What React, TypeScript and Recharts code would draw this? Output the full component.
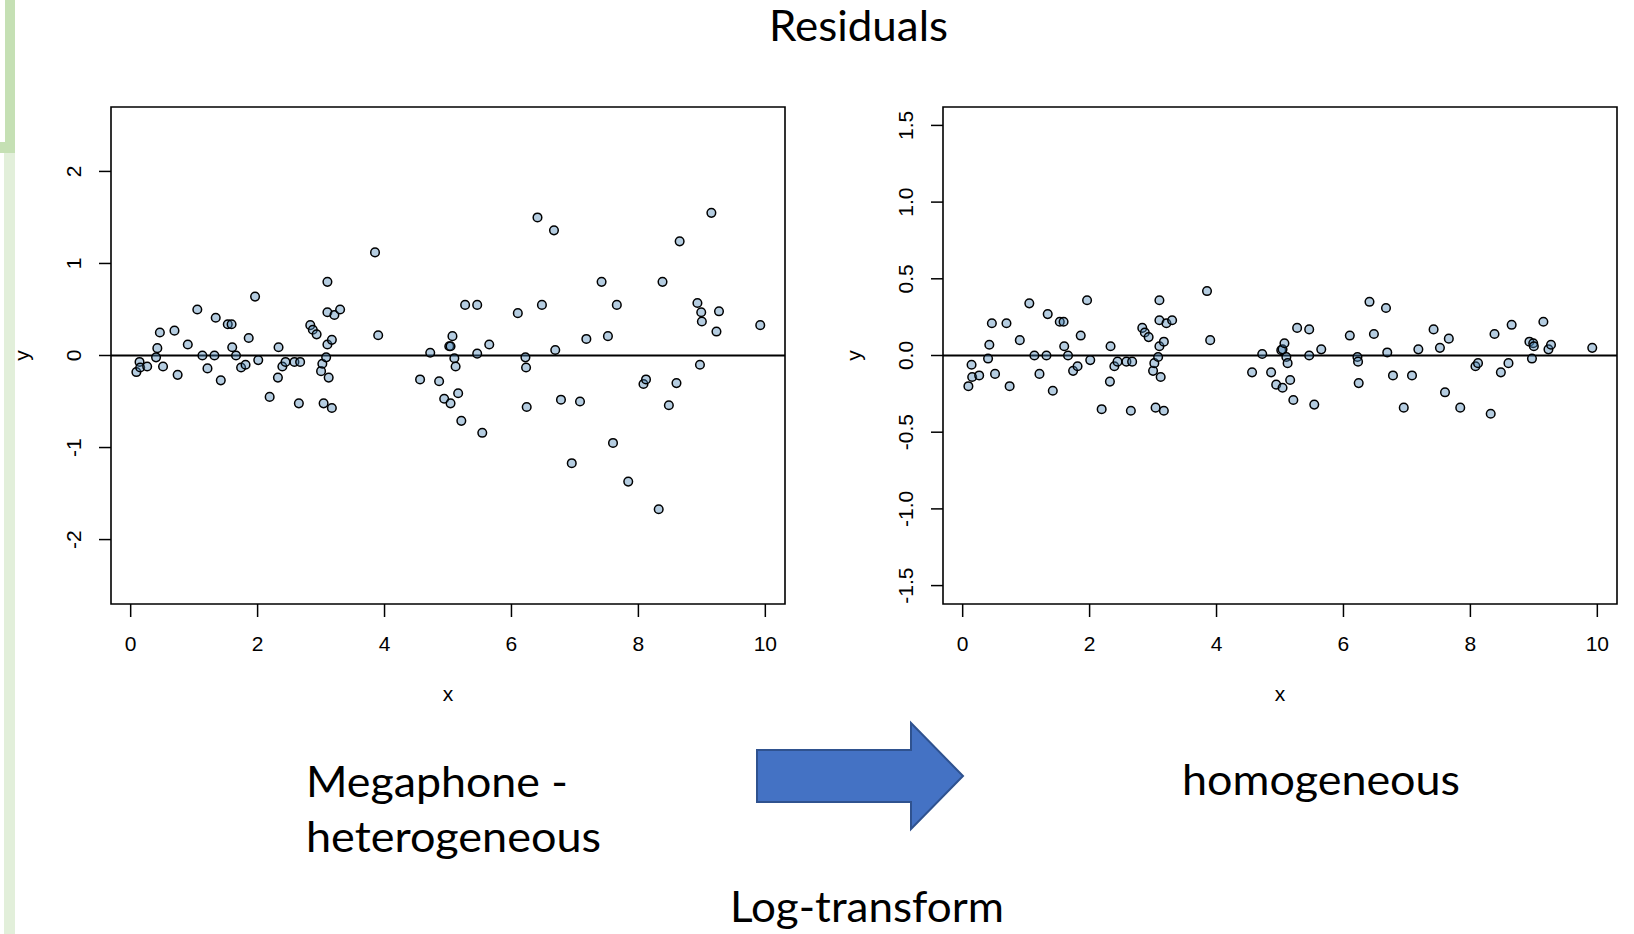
import { Label, ReferenceArea, ReferenceLine, Scatter, ScatterChart, XAxis, YAxis } from "recharts";

// x positions shared by both panels (same observations)
const xVals = [
  0.09, 0.14, 0.15, 0.26, 0.4, 0.42, 0.46, 0.51, 0.69, 0.74,
  0.9, 1.05, 1.13, 1.21, 1.32, 1.34, 1.42, 1.53, 1.59, 1.6,
  1.66, 1.74, 1.81, 1.86, 1.96, 2.01, 2.19, 2.32, 2.33, 2.39,
  2.44, 2.58, 2.67, 2.65, 2.83, 2.87, 2.93, 3.0, 3.02, 3.08,
  3.1, 3.1, 3.1, 3.12, 3.04, 3.17, 3.17, 3.21, 3.3, 3.85,
  3.9, 4.56, 4.72, 4.86, 4.94, 5.02, 5.04, 5.07, 5.04, 5.1,
  5.12, 5.16, 5.21, 5.27, 5.46, 5.46, 5.54, 5.65, 6.1, 6.22,
  6.23, 6.24, 6.41, 6.48, 6.67, 6.69, 6.78, 6.95, 7.08, 7.18,
  7.42, 7.52, 7.6, 7.66, 7.84, 8.08, 8.12, 8.32, 8.38, 8.48,
  8.6, 8.65, 8.93, 8.99, 9.0, 8.97, 9.15, 9.23, 9.27, 9.92,
];

// residuals of the raw model (megaphone)
const residRaw = [
  -0.18, -0.07, -0.13, -0.12, -0.02, 0.08, 0.25, -0.12, 0.27, -0.21,
  0.12, 0.5, 0.0, -0.14, 0.0, 0.41, -0.27, 0.34, 0.34, 0.09,
  0.0, -0.13, -0.1, 0.19, 0.64, -0.05, -0.45, -0.24, 0.09, -0.12,
  -0.07, -0.07, -0.07, -0.52, 0.33, 0.28, 0.23, -0.17, -0.09, -0.02,
  0.8, 0.47, 0.12, -0.24, -0.52, 0.17, -0.57, 0.44, 0.5, 1.12,
  0.22, -0.26, 0.03, -0.28, -0.47, 0.1, 0.1, 0.21, -0.52, -0.03,
  -0.12, -0.41, -0.71, 0.55, 0.55, 0.02, -0.84, 0.12, 0.46, -0.02,
  -0.13, -0.56, 1.5, 0.55, 1.36, 0.06, -0.48, -1.17, -0.5, 0.18,
  0.8, 0.21, -0.95, 0.55, -1.37, -0.31, -0.26, -1.67, 0.8, -0.54,
  -0.3, 1.24, 0.57, 0.47, 0.37, -0.1, 1.55, 0.26, 0.48, 0.33,
];

// residuals after log-transform
const residLog = [
  -0.2, -0.06, -0.14, -0.13, -0.02, 0.07, 0.21, -0.12, 0.21, -0.2,
  0.1, 0.34, 0.0, -0.12, 0.0, 0.27, -0.23, 0.22, 0.22, 0.06,
  0.0, -0.1, -0.07, 0.13, 0.36, -0.03, -0.35, -0.17, 0.06, -0.07,
  -0.04, -0.04, -0.04, -0.36, 0.18, 0.15, 0.12, -0.1, -0.05, -0.01,
  0.36, 0.23, 0.06, -0.14, -0.34, 0.09, -0.36, 0.21, 0.23, 0.42,
  0.1, -0.11, 0.01, -0.11, -0.19, 0.035, 0.04, 0.08, -0.21, -0.01,
  -0.05, -0.16, -0.29, 0.18, 0.17, 0.0, -0.32, 0.04, 0.13, -0.01,
  -0.04, -0.18, 0.35, 0.14, 0.31, 0.02, -0.13, -0.34, -0.13, 0.04,
  0.17, 0.05, -0.24, 0.11, -0.34, -0.07, -0.05, -0.38, 0.14, -0.11,
  -0.05, 0.2, 0.09, 0.08, 0.06, -0.02, 0.22, 0.04, 0.07, 0.05,
];

const xTicks = [0, 2, 4, 6, 8, 10];
const rawTicks = [-2, -1, 0, 1, 2];
const logTicks = [-1.5, -1.0, -0.5, 0.0, 0.5, 1.0, 1.5];

const rawData = xVals.map((x, i) => ({ x, y: residRaw[i] }));
const logData = xVals.map((x, i) => ({ x, y: residLog[i] }));

const AXIS_FONT = "'Liberation Sans', Arial, sans-serif";
const SLIDE_FONT = "Lato, 'Open Sans', sans-serif";
const X_DOMAIN: [number, number] = [-0.31, 10.31];

const Dot = (p: any) => (
  <circle cx={p.cx} cy={p.cy} r={4.3} fill="#4682b4" fillOpacity={0.4} stroke="#000" strokeWidth={1.5} />
);

const makeYTick = (fmt: (v: number) => string) => (p: any) => {
  const cx = p.x - 26;
  const cy = p.y;
  return (
    <text
      x={cx}
      y={cy}
      dy="0.36em"
      textAnchor="middle"
      transform={`rotate(-90, ${cx}, ${cy})`}
      fontSize={21}
      fontFamily={AXIS_FONT}
      fill="#000"
    >
      {fmt(p.payload.value)}
    </text>
  );
};

const XTitle = (p: any) => {
  const vb = p.viewBox;
  return (
    <text x={vb.x + vb.width / 2} y={vb.y + 97} textAnchor="middle" fontSize={21} fontFamily={AXIS_FONT} fill="#000">
      x
    </text>
  );
};

const YTitle = (p: any) => {
  const vb = p.viewBox;
  const cx = vb.x + vb.width - 87;
  const cy = vb.y + vb.height / 2;
  return (
    <text
      x={cx}
      y={cy}
      dy="0.25em"
      textAnchor="middle"
      transform={`rotate(-90, ${cx}, ${cy})`}
      fontSize={21}
      fontFamily={AXIS_FONT}
      fill="#000"
    >
      y
    </text>
  );
};

interface PanelProps {
  data: { x: number; y: number }[];
  yDomain: [number, number];
  yTicks: number[];
  fmt: (v: number) => string;
  axisWidth: number;
  rightMargin: number;
}

const ResidPanel = ({ data, yDomain, yTicks, fmt, axisWidth, rightMargin }: PanelProps) => (
  <ScatterChart width={800} height={720} margin={{ top: 107, right: rightMargin, bottom: 16, left: 0 }}>
    <XAxis
      type="number"
      dataKey="x"
      domain={X_DOMAIN}
      ticks={xTicks}
      interval={0}
      allowDataOverflow
      axisLine={false}
      tickSize={13}
      tickMargin={19}
      tickLine={{ stroke: "#000", strokeWidth: 1.5 }}
      tick={{ fontSize: 21, fill: "#000", fontFamily: AXIS_FONT }}
      height={100}
    >
      <Label content={<XTitle />} />
    </XAxis>
    <YAxis
      type="number"
      dataKey="y"
      domain={yDomain}
      ticks={yTicks}
      interval={0}
      allowDataOverflow
      axisLine={false}
      tickSize={12}
      tickMargin={0}
      tickLine={{ stroke: "#000", strokeWidth: 1.5 }}
      tick={makeYTick(fmt)}
      width={axisWidth}
    >
      <Label content={<YTitle />} />
    </YAxis>
    <ReferenceArea
      x1={X_DOMAIN[0]}
      x2={X_DOMAIN[1]}
      y1={yDomain[0]}
      y2={yDomain[1]}
      fill="none"
      stroke="#000"
      strokeWidth={1.6}
      ifOverflow="visible"
    />
    <Scatter data={data} shape={<Dot />} isAnimationActive={false} />
    <ReferenceLine y={0} stroke="#000" strokeWidth={2.2} />
  </ScatterChart>
);

export default function App() {
  return (
    <div style={{ position: "absolute", left: 0, top: 0, width: 1634, height: 934, background: "#fff", overflow: "hidden" }}>
      {/* slide decoration on the left edge */}
      <div style={{ position: "absolute", left: 4, top: 153, width: 11, height: 781, background: "#e2efda" }} />
      <div style={{ position: "absolute", left: 5, top: 0, width: 10, height: 153, background: "#c5e0b4" }} />
      <div style={{ position: "absolute", left: 0, top: 142, width: 15, height: 11, background: "#c5e0b4" }} />

      <div style={{ position: "absolute", left: 0, top: 0 }}>
        <ResidPanel data={rawData} yDomain={[-2.7, 2.7]} yTicks={rawTicks} fmt={(v) => String(v)} axisWidth={111} rightMargin={15} />
      </div>
      <div style={{ position: "absolute", left: 830, top: 0 }}>
        <ResidPanel data={logData} yDomain={[-1.62, 1.62]} yTicks={logTicks} fmt={(v) => v.toFixed(1)} axisWidth={113} rightMargin={13} />
      </div>

      <svg width={1634} height={934} style={{ position: "absolute", left: 0, top: 0, pointerEvents: "none" }}>
        <text x={769} y={41} textLength={179} lengthAdjust="spacingAndGlyphs" fontSize={42} fontFamily={SLIDE_FONT} fill="#000">
          Residuals
        </text>
        <text x={306} y={797} textLength={262} lengthAdjust="spacingAndGlyphs" fontSize={42} fontFamily={SLIDE_FONT} fill="#000">
          Megaphone -
        </text>
        <text x={306} y={852} textLength={295} lengthAdjust="spacingAndGlyphs" fontSize={42} fontFamily={SLIDE_FONT} fill="#000">
          heterogeneous
        </text>
        <text x={1182} y={795} textLength={278} lengthAdjust="spacingAndGlyphs" fontSize={42} fontFamily={SLIDE_FONT} fill="#000">
          homogeneous
        </text>
        <text x={730} y={922} textLength={274} lengthAdjust="spacingAndGlyphs" fontSize={42} fontFamily={SLIDE_FONT} fill="#000">
          Log-transform
        </text>
        <polygon
          points="757,750 911,750 911,723 963,776 911,829 911,802 757,802"
          fill="#4472c4"
          stroke="#2f528f"
          strokeWidth={2}
        />
      </svg>
    </div>
  );
}
